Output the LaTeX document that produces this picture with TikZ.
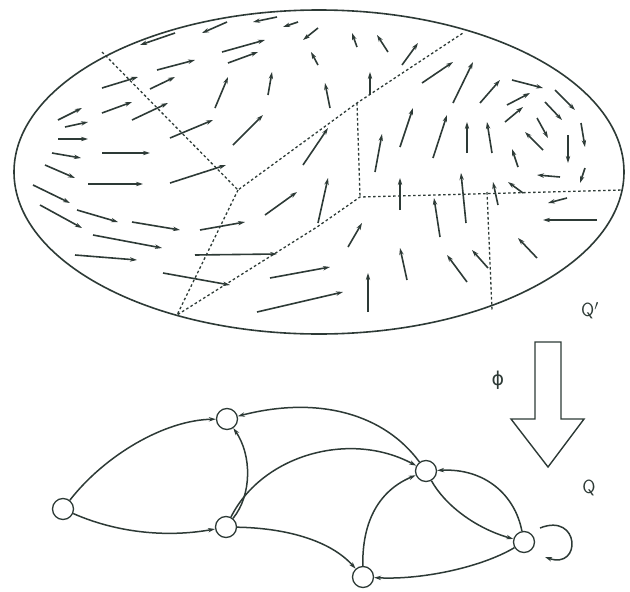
\documentclass[tikz,border=0pt]{standalone}
\usepackage{fontspec}
\newfontfamily\dvsans{DejaVu Sans}
\usetikzlibrary{arrows.meta}
\definecolor{ink}{RGB}{45,58,54}
\begin{document}
\begin{tikzpicture}[x=1pt,y=-1pt,
  fld/.style={ink,line width=1.6pt,-{Stealth[length=7pt,width=4.4pt]}},
  part/.style={ink,line width=1.3pt,dash pattern=on 2.6pt off 2.4pt},
  state/.style={circle,draw=ink,line width=1.3pt,minimum size=21pt,inner sep=0pt},
  edge/.style={ink,line width=1.5pt,-{Stealth[length=7pt,width=4.4pt]}},
  lbl/.style={ink,font=\sffamily\fontsize{19}{19}\selectfont}]
\useasboundingbox (0,0) rectangle (630,592);
% ellipse
\draw[ink,line width=1.6pt] (319,172) ellipse [x radius=305, y radius=162];
% partition boundaries
\coordinate (J1) at (238,190);
\coordinate (J2) at (357,103);
\coordinate (J3) at (317,227);
\coordinate (J4) at (360,197);
\coordinate (B) at (177,315);
\draw[part] (102,52) -- (J1) -- (J2) -- (463,33);
\draw[part] (J1) -- (B) -- (J3) -- (J4) -- (623,190);
\draw[part] (J2) -- (J4);
\draw[part] (487,192) -- (492,310);
% vector field
\foreach \a/\b/\c/\d in {
175/33/140/45, 227/22/202/33, 277/17/253/22, 298/22/283/27, 318/28/303/40,
318/65/311/52, 357/47/352/33, 388/52/377/35, 402/65/418/43, 370/95/370/72,
330/108/325/83, 268/95/272/72, 215/108/228/77, 233/145/263/115, 222/52/265/40,
228/63/258/52, 303/165/328/128, 400/147/413/108, 375/172/382/134, 157/70/195/60,
102/88/138/77, 150/89/175/77, 102/113/132/102, 132/120/168/103, 58/120/82/108,
65/127/88/122, 58/139/88/139, 52/153/81/158, 102/153/150/153, 170/138/213/120,
45/165/75/178, 88/184/143/184, 170/183/226/165, 33/185/70/203, 40/205/82/228,
77/210/118/222, 132/222/180/230, 200/230/245/222, 93/235/162/248, 75/255/137/260,
195/255/277/254, 163/273/230/285, 265/215/297/192, 318/223/328/178, 348/247/362/223,
270/278/330/267, 257/312/343/292, 368/312/368/273,
422/83/453/62, 453/103/473/62, 480/103/500/80, 512/80/543/88, 507/105/530/93,
505/122/523/107, 555/90/575/110, 545/102/562/120, 537/118/548/138, 543/150/525/132,
581/123/585/147, 568/135/568/163, 433/158/447/115, 467/153/467/122, 492/153/487/122,
518/167/512/149, 560/177/537/175, 585/168/580/183, 523/193/508/182, 567/198/548/203,
597/220/543/220, 537/258/518/238, 498/205/493/182, 466/223/461/173, 440/237/434/198,
400/210/400/178, 407/280/400/248, 467/282/447/255, 488/268/472/250}
  \draw[fld] (\a,\b) -- (\c,\d);
% labels and map arrow
\node[lbl] (qp) at (590,311) {Q$'$};
\node[lbl,font=\dvsans\fontsize{19}{19}\selectfont] (phi) at (498,380) {ϕ};
\node[lbl] (q) at (589,488) {Q};
\draw[ink,line width=1.4pt,line join=miter] (535,342) -- (561,342) -- (561,419) -- (584,419)
  -- (548,467) -- (511,419) -- (535,419) -- cycle;
% graph
\node[state] (A) at (63,509) {};
\node[state] (Bn) at (227,419) {};
\node[state] (C) at (226,527) {};
\node[state] (D) at (426,471) {};
\node[state] (E) at (524,542) {};
\node[state] (F) at (363,577) {};
\draw[edge] (A) .. controls (105,455) and (165,420) .. (Bn);
\draw[edge] (A) .. controls (115,532) and (165,538) .. (C);
\draw[edge] (C) .. controls (252,495) and (252,455) .. (Bn);
\draw[edge] (C) .. controls (262,455) and (350,430) .. (D);
\draw[edge] (D) .. controls (385,415) and (320,395) .. (Bn);
\draw[edge] (C) .. controls (285,528) and (330,540) .. (F);
\draw[edge] (F) .. controls (362,520) and (380,490) .. (D);
\draw[edge] (D) .. controls (445,505) and (475,528) .. (E);
\draw[edge] (E) .. controls (515,495) and (485,468) .. (D);
\draw[edge] (E) .. controls (480,568) and (420,580) .. (F);
\coordinate (L1) at (540,528);
\coordinate (L2) at (545,557);
\draw[edge] (L1) .. controls (580,512) and (582,570) .. (L2);
\end{tikzpicture}
\end{document}
